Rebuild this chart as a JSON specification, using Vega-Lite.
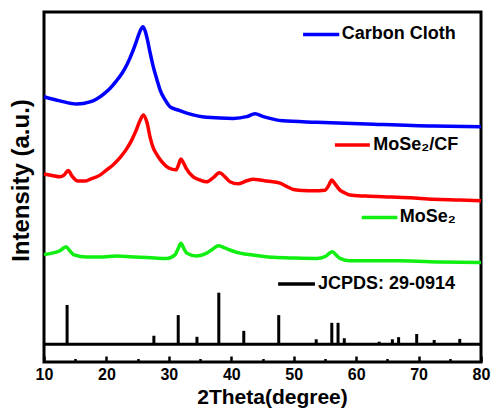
{
  "$schema": "https://vega.github.io/schema/vega-lite/v6.json",
  "width": 437,
  "height": 350,
  "autosize": "none",
  "padding": {"left": 44, "top": 12, "right": 12, "bottom": 46},
  "config": {
    "view": {"stroke": "black", "strokeWidth": 3},
    "font": "Liberation Sans"
  },
  "datasets": {
    "curves": [
      {"series": "Carbon Cloth", "theta": 10.0, "intensity": 75.8},
      {"series": "Carbon Cloth", "theta": 12.56, "intensity": 74.6},
      {"series": "Carbon Cloth", "theta": 15.24, "intensity": 73.7},
      {"series": "Carbon Cloth", "theta": 17.37, "intensity": 74.3},
      {"series": "Carbon Cloth", "theta": 18.5, "intensity": 75.2},
      {"series": "Carbon Cloth", "theta": 19.6, "intensity": 76.6},
      {"series": "Carbon Cloth", "theta": 20.6, "intensity": 78.2},
      {"series": "Carbon Cloth", "theta": 21.6, "intensity": 80.3},
      {"series": "Carbon Cloth", "theta": 22.5, "intensity": 82.5},
      {"series": "Carbon Cloth", "theta": 23.3, "intensity": 85.0},
      {"series": "Carbon Cloth", "theta": 24.0, "intensity": 87.8},
      {"series": "Carbon Cloth", "theta": 24.6, "intensity": 90.6},
      {"series": "Carbon Cloth", "theta": 25.1, "intensity": 93.2},
      {"series": "Carbon Cloth", "theta": 25.5, "intensity": 95.0},
      {"series": "Carbon Cloth", "theta": 25.85, "intensity": 95.8},
      {"series": "Carbon Cloth", "theta": 26.2, "intensity": 94.6},
      {"series": "Carbon Cloth", "theta": 26.6, "intensity": 91.8},
      {"series": "Carbon Cloth", "theta": 27.0, "intensity": 88.3},
      {"series": "Carbon Cloth", "theta": 27.5, "intensity": 84.4},
      {"series": "Carbon Cloth", "theta": 28.1, "intensity": 80.6},
      {"series": "Carbon Cloth", "theta": 28.6, "intensity": 77.7},
      {"series": "Carbon Cloth", "theta": 29.4, "intensity": 74.9},
      {"series": "Carbon Cloth", "theta": 30.2, "intensity": 72.9},
      {"series": "Carbon Cloth", "theta": 31.46, "intensity": 72.0},
      {"series": "Carbon Cloth", "theta": 32.86, "intensity": 71.1},
      {"series": "Carbon Cloth", "theta": 36.06, "intensity": 69.9},
      {"series": "Carbon Cloth", "theta": 40.32, "intensity": 69.6},
      {"series": "Carbon Cloth", "theta": 42.47, "intensity": 70.1},
      {"series": "Carbon Cloth", "theta": 43.80, "intensity": 70.9},
      {"series": "Carbon Cloth", "theta": 45.13, "intensity": 70.1},
      {"series": "Carbon Cloth", "theta": 48.28, "intensity": 68.9},
      {"series": "Carbon Cloth", "theta": 53.68, "intensity": 68.5},
      {"series": "Carbon Cloth", "theta": 61.69, "intensity": 68.0},
      {"series": "Carbon Cloth", "theta": 72.36, "intensity": 67.4},
      {"series": "Carbon Cloth", "theta": 80.0, "intensity": 67.2},

      {"series": "MoSe2/CF", "theta": 10.0, "intensity": 53.7},
      {"series": "MoSe2/CF", "theta": 11.28, "intensity": 53.3},
      {"series": "MoSe2/CF", "theta": 12.56, "intensity": 52.9},
      {"series": "MoSe2/CF", "theta": 13.2, "intensity": 53.4},
      {"series": "MoSe2/CF", "theta": 13.89, "intensity": 54.7},
      {"series": "MoSe2/CF", "theta": 14.49, "intensity": 53.1},
      {"series": "MoSe2/CF", "theta": 15.45, "intensity": 51.7},
      {"series": "MoSe2/CF", "theta": 16.57, "intensity": 51.7},
      {"series": "MoSe2/CF", "theta": 17.37, "intensity": 52.2},
      {"series": "MoSe2/CF", "theta": 18.97, "intensity": 53.4},
      {"series": "MoSe2/CF", "theta": 20.04, "intensity": 54.9},
      {"series": "MoSe2/CF", "theta": 21.05, "intensity": 56.3},
      {"series": "MoSe2/CF", "theta": 22.17, "intensity": 58.4},
      {"series": "MoSe2/CF", "theta": 23.13, "intensity": 60.6},
      {"series": "MoSe2/CF", "theta": 24.05, "intensity": 63.4},
      {"series": "MoSe2/CF", "theta": 24.74, "intensity": 66.1},
      {"series": "MoSe2/CF", "theta": 25.38, "intensity": 69.0},
      {"series": "MoSe2/CF", "theta": 25.94, "intensity": 70.6},
      {"series": "MoSe2/CF", "theta": 26.5, "intensity": 68.4},
      {"series": "MoSe2/CF", "theta": 27.0, "intensity": 64.2},
      {"series": "MoSe2/CF", "theta": 27.5, "intensity": 61.2},
      {"series": "MoSe2/CF", "theta": 28.1, "intensity": 59.2},
      {"series": "MoSe2/CF", "theta": 28.8, "intensity": 57.4},
      {"series": "MoSe2/CF", "theta": 29.6, "intensity": 55.9},
      {"series": "MoSe2/CF", "theta": 30.45, "intensity": 55.1},
      {"series": "MoSe2/CF", "theta": 31.14, "intensity": 54.9},
      {"series": "MoSe2/CF", "theta": 31.54, "intensity": 56.3},
      {"series": "MoSe2/CF", "theta": 31.94, "intensity": 58.0},
      {"series": "MoSe2/CF", "theta": 32.34, "intensity": 56.9},
      {"series": "MoSe2/CF", "theta": 32.75, "intensity": 55.4},
      {"series": "MoSe2/CF", "theta": 33.91, "intensity": 52.9},
      {"series": "MoSe2/CF", "theta": 34.99, "intensity": 52.0},
      {"series": "MoSe2/CF", "theta": 36.06, "intensity": 51.5},
      {"series": "MoSe2/CF", "theta": 37.12, "intensity": 52.7},
      {"series": "MoSe2/CF", "theta": 38.11, "intensity": 54.1},
      {"series": "MoSe2/CF", "theta": 38.99, "intensity": 52.9},
      {"series": "MoSe2/CF", "theta": 39.79, "intensity": 51.5},
      {"series": "MoSe2/CF", "theta": 41.07, "intensity": 50.9},
      {"series": "MoSe2/CF", "theta": 42.36, "intensity": 51.7},
      {"series": "MoSe2/CF", "theta": 43.53, "intensity": 52.2},
      {"series": "MoSe2/CF", "theta": 44.6, "intensity": 52.0},
      {"series": "MoSe2/CF", "theta": 45.67, "intensity": 51.7},
      {"series": "MoSe2/CF", "theta": 47.8, "intensity": 51.1},
      {"series": "MoSe2/CF", "theta": 48.92, "intensity": 50.1},
      {"series": "MoSe2/CF", "theta": 49.93, "intensity": 49.3},
      {"series": "MoSe2/CF", "theta": 51.49, "intensity": 49.0},
      {"series": "MoSe2/CF", "theta": 53.14, "intensity": 48.9},
      {"series": "MoSe2/CF", "theta": 55.01, "intensity": 49.1},
      {"series": "MoSe2/CF", "theta": 55.65, "intensity": 50.6},
      {"series": "MoSe2/CF", "theta": 56.08, "intensity": 52.0},
      {"series": "MoSe2/CF", "theta": 56.61, "intensity": 50.9},
      {"series": "MoSe2/CF", "theta": 57.41, "intensity": 49.1},
      {"series": "MoSe2/CF", "theta": 58.21, "intensity": 48.3},
      {"series": "MoSe2/CF", "theta": 59.01, "intensity": 47.7},
      {"series": "MoSe2/CF", "theta": 61.42, "intensity": 47.4},
      {"series": "MoSe2/CF", "theta": 64.35, "intensity": 47.2},
      {"series": "MoSe2/CF", "theta": 68.63, "intensity": 46.9},
      {"series": "MoSe2/CF", "theta": 72.36, "intensity": 46.5},
      {"series": "MoSe2/CF", "theta": 76.63, "intensity": 46.3},
      {"series": "MoSe2/CF", "theta": 80.0, "intensity": 46.1},

      {"series": "MoSe2", "theta": 10.0, "intensity": 30.7},
      {"series": "MoSe2", "theta": 11.28, "intensity": 31.1},
      {"series": "MoSe2", "theta": 12.56, "intensity": 31.8},
      {"series": "MoSe2", "theta": 13.52, "intensity": 32.9},
      {"series": "MoSe2", "theta": 14.16, "intensity": 31.7},
      {"series": "MoSe2", "theta": 14.81, "intensity": 30.6},
      {"series": "MoSe2", "theta": 16.84, "intensity": 30.0},
      {"series": "MoSe2", "theta": 18.97, "intensity": 30.0},
      {"series": "MoSe2", "theta": 21.64, "intensity": 30.3},
      {"series": "MoSe2", "theta": 23.78, "intensity": 30.1},
      {"series": "MoSe2", "theta": 25.38, "intensity": 29.9},
      {"series": "MoSe2", "theta": 27.78, "intensity": 29.7},
      {"series": "MoSe2", "theta": 29.65, "intensity": 29.6},
      {"series": "MoSe2", "theta": 30.98, "intensity": 30.6},
      {"series": "MoSe2", "theta": 31.46, "intensity": 32.3},
      {"series": "MoSe2", "theta": 31.94, "intensity": 33.9},
      {"series": "MoSe2", "theta": 32.43, "intensity": 32.3},
      {"series": "MoSe2", "theta": 32.91, "intensity": 31.1},
      {"series": "MoSe2", "theta": 34.46, "intensity": 30.3},
      {"series": "MoSe2", "theta": 36.06, "intensity": 31.1},
      {"series": "MoSe2", "theta": 37.07, "intensity": 32.3},
      {"series": "MoSe2", "theta": 37.92, "intensity": 33.2},
      {"series": "MoSe2", "theta": 38.83, "intensity": 32.7},
      {"series": "MoSe2", "theta": 39.79, "intensity": 32.0},
      {"series": "MoSe2", "theta": 41.4, "intensity": 31.1},
      {"series": "MoSe2", "theta": 42.47, "intensity": 30.8},
      {"series": "MoSe2", "theta": 44.6, "intensity": 30.3},
      {"series": "MoSe2", "theta": 46.73, "intensity": 29.9},
      {"series": "MoSe2", "theta": 50.2, "intensity": 29.7},
      {"series": "MoSe2", "theta": 53.68, "intensity": 29.6},
      {"series": "MoSe2", "theta": 55.01, "intensity": 30.1},
      {"series": "MoSe2", "theta": 55.65, "intensity": 31.0},
      {"series": "MoSe2", "theta": 56.18, "intensity": 31.5},
      {"series": "MoSe2", "theta": 56.77, "intensity": 30.6},
      {"series": "MoSe2", "theta": 57.41, "intensity": 29.6},
      {"series": "MoSe2", "theta": 59.01, "intensity": 28.9},
      {"series": "MoSe2", "theta": 63.82, "intensity": 28.9},
      {"series": "MoSe2", "theta": 67.02, "intensity": 28.9},
      {"series": "MoSe2", "theta": 73.43, "intensity": 28.6},
      {"series": "MoSe2", "theta": 80.0, "intensity": 28.4}
    ],
    "sticks": [
      {"theta": 13.7, "intensity": 16.3},
      {"theta": 27.6, "intensity": 7.5},
      {"theta": 31.5, "intensity": 13.4},
      {"theta": 34.5, "intensity": 7.2},
      {"theta": 38.0, "intensity": 19.8},
      {"theta": 42.0, "intensity": 8.9},
      {"theta": 47.6, "intensity": 13.4},
      {"theta": 53.6, "intensity": 6.5},
      {"theta": 56.1, "intensity": 11.2},
      {"theta": 57.1, "intensity": 11.2},
      {"theta": 58.1, "intensity": 6.8},
      {"theta": 63.7, "intensity": 5.8},
      {"theta": 65.8, "intensity": 6.5},
      {"theta": 66.8, "intensity": 7.1},
      {"theta": 69.7, "intensity": 8.0},
      {"theta": 72.5, "intensity": 6.3},
      {"theta": 76.6, "intensity": 6.6}
    ],
    "baseline": [
      {"theta": 10, "theta2": 80, "intensity": 5.1}
    ],
    "legend": [
      {"series": "Carbon Cloth", "label": "Carbon Cloth", "x1": 51.5, "x2": 57.3, "y": 93.6, "tx": 57.7},
      {"series": "MoSe2/CF", "label": "MoSe₂/CF", "x1": 56.6, "x2": 62.2, "y": 62.0, "tx": 62.75},
      {"series": "MoSe2", "label": "MoSe₂", "x1": 60.9, "x2": 66.6, "y": 41.3, "tx": 67.0},
      {"series": "JCPDS", "label": "JCPDS: 29-0914", "x1": 47.5, "x2": 53.4, "y": 22.3, "tx": 53.9}
    ]
  },
  "resolve": {"axis": {"x": "independent"}},
  "layer": [
    {
      "data": {"name": "curves"},
      "mark": {"type": "line", "strokeWidth": 3.5, "interpolate": "monotone"},
      "encoding": {
        "x": {
          "field": "theta", "type": "quantitative",
          "scale": {"domain": [10, 80], "nice": false, "zero": false},
          "axis": {
            "orient": "bottom",
            "values": [10, 20, 30, 40, 50, 60, 70, 80],
            "title": "2Theta(degree)",
            "titleFontSize": 21, "titleFontWeight": "bold", "titleColor": "black",
            "titleBaseline": "alphabetic", "titleAlign": "center",
            "titleX": 228, "titleY": 41.5,
            "labelFontSize": 16, "labelFontWeight": "bold", "labelColor": "black",
            "labelFlush": false, "labelPadding": 10.5,
            "tickSize": -6, "tickWidth": 2.5, "tickColor": "black",
            "domain": false, "grid": false
          }
        },
        "y": {
          "field": "intensity", "type": "quantitative",
          "scale": {"domain": [0, 100], "nice": false, "zero": false},
          "axis": {
            "title": "Intensity (a.u.)",
            "titleFontSize": 24, "titleFontWeight": "bold", "titleColor": "black",
            "titleAngle": -90, "titleBaseline": "alphabetic", "titleAlign": "center",
            "titleX": -16, "titleY": 168,
            "labels": false, "ticks": false, "domain": false, "grid": false
          }
        },
        "color": {
          "field": "series", "type": "nominal",
          "scale": {"domain": ["Carbon Cloth", "MoSe2/CF", "MoSe2", "JCPDS"], "range": ["#0000ff", "#ff0000", "#11ee11", "#000000"]},
          "legend": null
        }
      }
    },
    {
      "data": {"name": "sticks"},
      "mark": {"type": "rule", "strokeWidth": 3, "color": "black"},
      "encoding": {
        "x": {
          "field": "theta", "type": "quantitative",
          "axis": {
            "orient": "bottom",
            "values": [15, 25, 35, 45, 55, 65, 75],
            "title": null, "labels": false,
            "tickSize": -3.5, "tickWidth": 2.5, "tickColor": "black",
            "domain": false, "grid": false
          }
        },
        "y": {"field": "intensity", "type": "quantitative"},
        "y2": {"datum": 5.1}
      }
    },
    {
      "data": {"name": "baseline"},
      "mark": {"type": "rule", "strokeWidth": 3, "color": "black"},
      "encoding": {
        "x": {"field": "theta", "type": "quantitative", "axis": null},
        "x2": {"field": "theta2"},
        "y": {"field": "intensity", "type": "quantitative"}
      }
    },
    {
      "data": {"name": "legend"},
      "mark": {"type": "rule", "strokeWidth": 3.5},
      "encoding": {
        "x": {"field": "x1", "type": "quantitative", "axis": null},
        "x2": {"field": "x2"},
        "y": {"field": "y", "type": "quantitative"},
        "color": {"field": "series", "type": "nominal", "legend": null}
      }
    },
    {
      "data": {"name": "legend"},
      "mark": {"type": "text", "align": "left", "baseline": "middle", "fontSize": 18, "fontWeight": "bold", "color": "black", "font": "Liberation Sans"},
      "encoding": {
        "x": {"field": "tx", "type": "quantitative", "axis": null},
        "y": {"field": "y", "type": "quantitative"},
        "text": {"field": "label"}
      }
    }
  ]
}
